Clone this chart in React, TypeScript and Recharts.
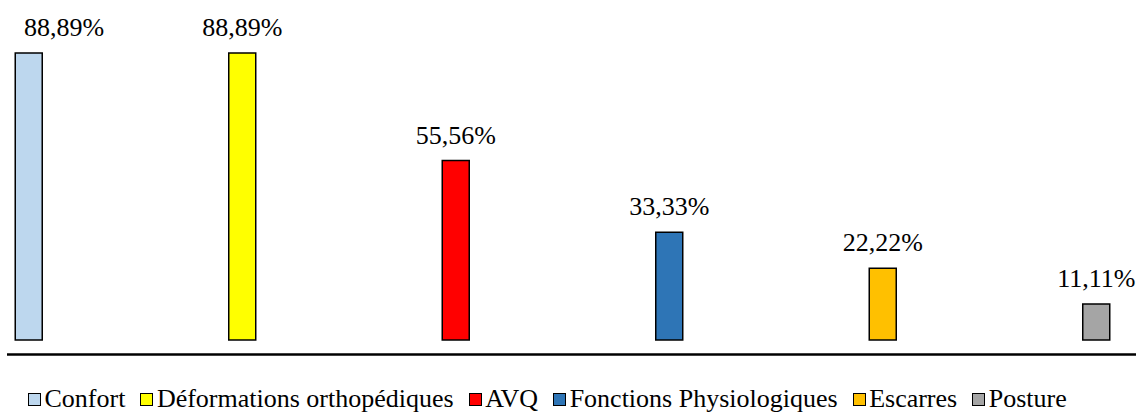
import { BarChart, Bar, XAxis, YAxis, Cell, LabelList } from "recharts";

// categories + values
const categories = [
  "Confort",
  "Déformations orthopédiques",
  "AVQ",
  "Fonctions Physiologiques",
  "Escarres",
  "Posture",
];
const percentages = [88.89, 88.89, 55.56, 33.33, 22.22, 11.11];
const colors = ["#BDD7EE", "#FFFF00", "#FF0000", "#2E75B6", "#FFC000", "#A5A5A5"];

const data = categories.map((name, i) => ({ idx: i, name, value: percentages[i] }));

const FONT = '"Liberation Serif", Tinos, "Times New Roman", "Noto Serif", "DejaVu Serif", serif';

const fmt = (v: number) => v.toFixed(2).replace(".", ",") + "%";

function ValueLabel(props: any) {
  const { x, y, width, value } = props;
  const cx = Number(x) + Number(width) / 2;
  const half = 40;
  // keep the label inside the chart, like the original does for the first bar
  const left = cx - half < 24;
  return (
    <text
      x={left ? 24 : cx}
      y={Number(y) - 17}
      textAnchor={left ? "start" : "middle"}
      fontFamily={FONT}
      fontSize={26}
      fill="#000"
    >
      {fmt(Number(value))}
    </text>
  );
}

export default function App() {
  return (
    <div style={{ position: "relative", width: 1136, height: 412, background: "#fff", overflow: "hidden", fontFamily: FONT }}>
      <style>{"body{margin:0}"}</style>
      <BarChart
        width={1136}
        height={412}
        data={data}
        margin={{ top: 17, right: 0, left: 7, bottom: 56.5 }}
        style={{ fontFamily: FONT }}
      >
        <XAxis
          dataKey="idx"
          type="number"
          domain={[-0.103, 5.185]}
          allowDataOverflow
          height={1}
          tick={false}
          tickLine={false}
          axisLine={{ stroke: "#000", strokeWidth: 2.7 }}
        />
        <YAxis type="number" domain={[-4.5, 100]} allowDataOverflow hide />
        <Bar dataKey="value" barSize={27} stroke="#000" strokeWidth={1.5} isAnimationActive={false}>
          {data.map((d, i) => (
            <Cell key={d.name} fill={colors[i]} />
          ))}
          <LabelList dataKey="value" content={ValueLabel} />
        </Bar>
      </BarChart>
      <div
        style={{
          position: "absolute",
          top: 387,
          left: 28,
          display: "flex",
          alignItems: "center",
          fontSize: 26,
          lineHeight: "24px",
          color: "#000",
          whiteSpace: "nowrap",
        }}
      >
        {categories.map((c, i) => (
          <div key={c} style={{ display: "flex", alignItems: "center", marginRight: 15 }}>
            <span
              style={{
                display: "inline-block",
                width: 11,
                height: 11,
                background: colors[i],
                border: "1px solid #000",
                marginRight: 3.5,
              }}
            />
            <span>{c}</span>
          </div>
        ))}
      </div>
    </div>
  );
}
